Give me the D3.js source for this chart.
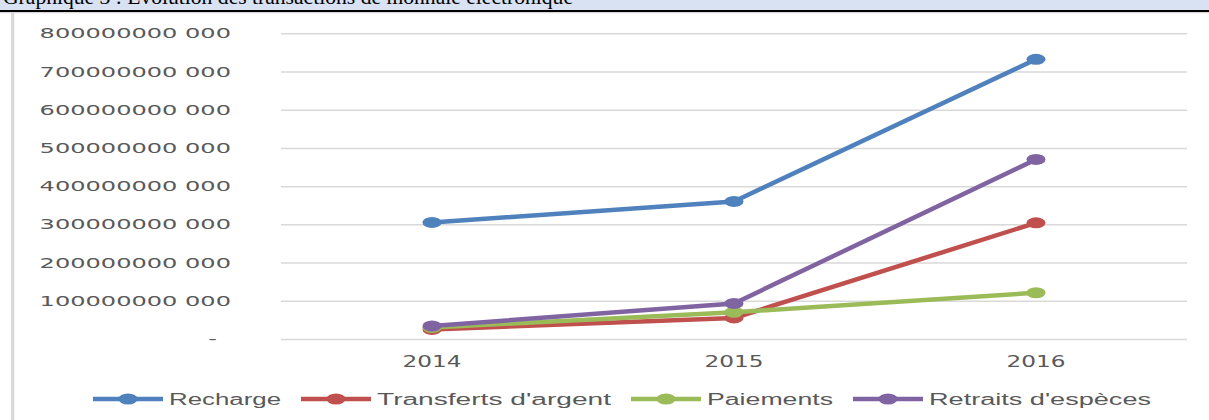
<!DOCTYPE html>
<html><head><meta charset="utf-8">
<script src="https://cdn.jsdelivr.net/npm/d3@7"></script>
<style>html,body{margin:0;padding:0;background:#fff;overflow:hidden}</style>
</head><body>
<svg id="c" width="1209" height="420"></svg>
<script>
const years = ["2014", "2015", "2016"];
const seriesNames = ["Recharge", "Transferts d'argent", "Paiements", "Retraits d'espèces"];
const recharge   = [305e9, 360e9, 732e9];
const transferts = [25e9, 55e9, 304e9];
const paiements  = [30e9, 70e9, 121e9];
const retraits   = [34e9, 93e9, 470e9];
const yTicks = [0, 100e9, 200e9, 300e9, 400e9, 500e9, 600e9, 700e9, 800e9];
const titleText = "Graphique 3 : Évolution des transactions de monnaie électronique";

const series = [recharge, transferts, paiements, retraits];
const colors = ["#4f81bd", "#c0504d", "#9bbb59", "#8064a2"];
const legendLens = [112, 234, 126, 222];

const svg = d3.select("#c");

// header band
svg.append("defs").append("clipPath").attr("id","hc")
  .append("rect").attr("x",0).attr("y",0).attr("width",1209).attr("height",9.5);
svg.append("rect").attr("x",0).attr("y",0).attr("width",1209).attr("height",10).attr("fill","#d9e2f3");
svg.append("text").attr("clip-path","url(#hc)").attr("x",3).attr("y",4)
  .attr("font-family","Liberation Serif").attr("font-size",21).attr("fill","#000")
  .attr("textLength",570).attr("lengthAdjust","spacingAndGlyphs").text(titleText);
svg.append("rect").attr("x",0).attr("y",10).attr("width",1209).attr("height",2).attr("fill","#000");
svg.append("rect").attr("x",0).attr("y",12).attr("width",1209).attr("height",1.3).attr("fill","#d9d9d9");
svg.append("rect").attr("x",11).attr("y",13).attr("width",3.3).attr("height",407).attr("fill","#d9d9d9");

const x = d3.scalePoint().domain(years).range([281, 1187]).padding(0.5);
const y = d3.scaleLinear().domain([0, 800e9]).range([339, 33.3]);

// gridlines
svg.append("g").attr("transform","translate(281,0)")
  .call(d3.axisRight(y).tickValues(yTicks).tickSize(906).tickFormat(""))
  .call(g => g.select(".domain").remove())
  .call(g => g.selectAll("line").attr("stroke","#d9d9d9").attr("stroke-width",1.5));

const fmt = v => v === 0 ? "-" : `${Math.floor(v/1000)} ${String(v%1000).padStart(3,"0")}`;
const sxY = 1.72;
svg.append("g").selectAll("text").data(yTicks).join("text")
  .attr("transform", d => `translate(${d===0 ? 217 : 231},${y(d)}) scale(${sxY},1)`)
  .attr("text-anchor","end").attr("dy","0.36em")
  .attr("font-family","DejaVu Sans").attr("font-size",14).attr("fill","#595959")
  .text(fmt);

const sxX = 1.45;
svg.append("g").selectAll("text").data(years).join("text")
  .attr("transform", d => `translate(${x(d)},361) scale(${sxX},1)`)
  .attr("text-anchor","middle").attr("dy","0.36em")
  .attr("font-family","DejaVu Sans").attr("font-size",16).attr("fill","#595959")
  .text(d => d);

const line = d3.line().x((d,i) => x(years[i])).y(d => y(d));
series.forEach((s, k) => {
  const g = svg.append("g");
  g.append("path").datum(s).attr("d", line).attr("fill","none")
    .attr("stroke", colors[k]).attr("stroke-width",4.5).attr("stroke-linejoin","round");
  g.selectAll("ellipse").data(s).join("ellipse")
    .attr("cx",(d,i)=>x(years[i])).attr("cy",d=>y(d)).attr("rx",9.5).attr("ry",5.5)
    .attr("fill",colors[k]);
});

// legend
const lg = svg.append("g");
let lx = 93;
const ly = 399;
seriesNames.forEach((n, k) => {
  lg.append("line").attr("x1",lx).attr("x2",lx+70).attr("y1",ly).attr("y2",ly)
    .attr("stroke",colors[k]).attr("stroke-width",4.5);
  lg.append("ellipse").attr("cx",lx+35).attr("cy",ly).attr("rx",9.5).attr("ry",5.5).attr("fill",colors[k]);
  lg.append("text").attr("x",lx+76).attr("y",ly+6)
    .attr("font-family","Liberation Sans").attr("font-size",16).attr("fill","#595959")
    .attr("textLength",legendLens[k]).attr("lengthAdjust","spacingAndGlyphs")
    .text(n);
  lx += 76 + legendLens[k] + 20;
});
</script>
</body></html>
